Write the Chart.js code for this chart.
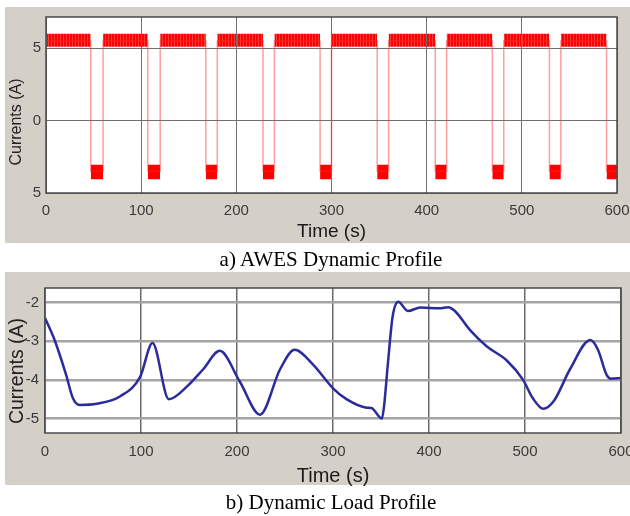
<!DOCTYPE html>
<html>
<head>
<meta charset="utf-8">
<script src="https://cdn.jsdelivr.net/npm/chart.js@4.4.1/dist/chart.umd.min.js"></script>
<style>
  body { margin:0; width:630px; height:516px; overflow:hidden; background:#fff; position:relative; font-family:"Liberation Sans", Arial, sans-serif; }
  .panel { position:absolute; background:#d4d0c8; }
  #panelA { left:5px; top:7px; width:625px; height:236px; }
  #panelB { left:5px; top:272px; width:625px; height:213px; }
  canvas { position:absolute; }
  #chartA { left:5px; top:3px; }
  #chartB { left:5px; top:273px; }
  .ytitle { position:absolute; transform:translate(-50%,-50%) rotate(-90deg); white-space:nowrap; color:#222; }
  .caption { position:absolute; left:0; width:662px; text-align:center; font-family:"Liberation Serif","Times New Roman",serif; font-size:21px; line-height:21px; color:#000; }
</style>
</head>
<body>
<div class="panel" id="panelA"></div>
<div class="panel" id="panelB"></div>
<canvas id="chartA" width="635" height="250"></canvas>
<canvas id="chartB" width="640" height="220"></canvas>
<div class="ytitle" style="left:16px; top:122px; font-size:16px;">Currents (A)</div>
<div class="ytitle" style="left:16px; top:371px; font-size:19.5px;">Currents (A)</div>
<div class="caption" style="top:249px;">a) AWES Dynamic Profile</div>
<div class="caption" style="top:492px;">b) Dynamic Load Profile</div>
<script>
// x ticks shared by both plots
const timeTicks = [0, 100, 200, 300, 400, 500, 600];

// a) AWES profile: low phases (s) and band levels (A)
const awesLowStart = [47, 107, 168, 228, 288, 348, 409, 469, 529, 589];
const awesLowEnd   = [60, 120, 180, 240, 300, 360, 421, 481, 541, 600];
const awesHighBand = [5.1, 6.0];
const awesLowBand  = [-4.05, -3.05];
const awesLevels   = [5.5, -3.5];
const awesYTicks   = [-5, 0, 5];
const awesYLabels  = ['5', '0', '5'];

// b) dynamic load profile
const loadTime    = [0, 10, 22, 29, 36, 54, 78, 99, 112, 129, 148, 165, 182, 203, 224, 245, 260, 279, 300, 314, 335, 340, 351, 353, 357, 362, 368, 378, 391, 411, 420, 427, 443, 460, 481, 498, 508, 519, 530, 547, 568, 576, 585, 590, 599];
const loadCurrent = [-2.4, -2.97, -3.87, -4.47, -4.65, -4.62, -4.43, -3.93, -3.05, -4.5, -4.17, -3.72, -3.25, -4.05, -4.9, -3.72, -3.22, -3.6, -4.22, -4.5, -4.72, -4.73, -5.0, -4.72, -3.63, -2.38, -1.98, -2.22, -2.13, -2.15, -2.12, -2.22, -2.72, -3.13, -3.5, -4.0, -4.47, -4.75, -4.55, -3.72, -2.97, -3.22, -3.87, -3.97, -3.95];
const loadYTicks  = [-5, -4, -3, -2];

// white plot area + black box like matlab
const plotFrame = {
  id: 'plotFrame',
  beforeDraw(chart) {
    const a = chart.chartArea, ctx = chart.ctx;
    ctx.save();
    ctx.fillStyle = '#fff';
    ctx.fillRect(a.left, a.top, a.right - a.left, a.bottom - a.top);
    ctx.restore();
  },
  afterDraw(chart) {
    const a = chart.chartArea, ctx = chart.ctx;
    ctx.save();
    ctx.strokeStyle = '#4a4a4a';
    ctx.lineWidth = 1.5;
    ctx.strokeRect(a.left, a.top, a.right - a.left, a.bottom - a.top);
    ctx.restore();
  }
};

function fixedTicks(list) {
  return function(scale) { scale.ticks = list.map(function(v){ return {value: v}; }); };
}

// build the segments of the square profile
var highSegs = [], lowSegs = [], prev = 0;
for (var i = 0; i < awesLowStart.length; i++) {
  highSegs.push([prev, awesLowStart[i]]);
  lowSegs.push([awesLowStart[i], awesLowEnd[i]]);
  prev = awesLowEnd[i];
}
if (prev < 600) highSegs.push([prev, 600]);

function bandPoints(segs, y) {
  var pts = [];
  segs.forEach(function(s){ pts.push({x: s[0], y: y}, {x: s[1], y: y}, {x: s[1], y: null}); });
  return pts;
}

var steps = [{x: 0, y: awesLevels[0]}];
for (var j = 0; j < awesLowStart.length; j++) {
  steps.push({x: awesLowStart[j], y: awesLevels[0]}, {x: awesLowStart[j], y: awesLevels[1]}, {x: awesLowEnd[j], y: awesLevels[1]});
  if (awesLowEnd[j] < 600) steps.push({x: awesLowEnd[j], y: awesLevels[0]});
}

// striped red for the noisy high band
function bandPattern() {
  var c = document.createElement('canvas');
  c.width = 3; c.height = 3;
  var g = c.getContext('2d');
  g.fillStyle = '#ff0000'; g.fillRect(0, 0, 3, 3);
  g.fillStyle = '#ff3a3a'; g.fillRect(1, 0, 1, 3);
  return g.createPattern(c, 'repeat');
}

var hidden = {borderWidth: 0, borderColor: 'rgba(0,0,0,0)', pointRadius: 0, fill: false, spanGaps: false};

// chart a
new Chart(document.getElementById('chartA'), {
  type: 'line',
  data: {
    datasets: [
      {data: steps, borderColor: 'rgba(255,40,40,0.45)', borderWidth: 1.5, pointRadius: 0, tension: 0, fill: false},
      Object.assign({data: bandPoints(highSegs, awesHighBand[0])}, hidden),
      Object.assign({}, hidden, {data: bandPoints(highSegs, awesHighBand[1]), fill: '-1', backgroundColor: bandPattern()}),
      Object.assign({data: bandPoints(lowSegs, awesLowBand[0])}, hidden),
      Object.assign({}, hidden, {data: bandPoints(lowSegs, awesLowBand[1]), fill: '-1', backgroundColor: '#ff0000'})
    ]
  },
  options: {
    responsive: false,
    animation: false,
    plugins: { legend: {display: false}, tooltip: {enabled: false} },
    layout: { padding: {top: 10, right: 23, left: 0, bottom: 0} },
    scales: {
      x: {
        type: 'linear', min: 0, max: 600,
        afterBuildTicks: fixedTicks(timeTicks),
        afterFit: function(s){ s.height = 60; },
        grid: {color: '#707070', lineWidth: 1, drawTicks: false, z: 1},
        border: {display: false},
        ticks: {padding: 9, color: '#3a3a3a', font: {family: 'Liberation Sans', size: 15}},
        title: {display: true, text: 'Time (s)', color: '#1a1a1a', font: {family: 'Liberation Sans', size: 19}, padding: {top: 0, bottom: 10}}
      },
      y: {
        min: -5, max: 7.15,
        afterBuildTicks: fixedTicks(awesYTicks),
        afterFit: function(s){ s.width = 41; },
        grid: {color: '#707070', lineWidth: 1, drawTicks: false, z: 1},
        border: {display: false},
        ticks: {
          padding: 5, color: '#3a3a3a', font: {family: 'Liberation Sans', size: 15},
          callback: function(v){ var k = awesYTicks.indexOf(v); return k < 0 ? '' : awesYLabels[k]; }
        }
      }
    }
  },
  plugins: [plotFrame]
});

// chart b
new Chart(document.getElementById('chartB'), {
  type: 'line',
  data: {
    datasets: [{
      data: loadTime.map(function(t, k){ return {x: t, y: loadCurrent[k]}; }),
      borderColor: '#2b2b9c',
      borderWidth: 2.5,
      pointRadius: 0,
      cubicInterpolationMode: 'monotone',
      fill: false
    }]
  },
  options: {
    responsive: false,
    animation: false,
    plugins: { legend: {display: false}, tooltip: {enabled: false} },
    layout: { padding: {top: 10, right: 24, left: 0, bottom: 0} },
    scales: {
      x: {
        type: 'linear', min: 0, max: 600,
        afterBuildTicks: fixedTicks(timeTicks),
        afterFit: function(s){ s.height = 60; },
        grid: {color: '#6a6a6a', lineWidth: 1.5, drawTicks: false},
        border: {display: false},
        ticks: {padding: 10, color: '#3a3a3a', font: {family: 'Liberation Sans', size: 15}},
        title: {display: true, text: 'Time (s)', color: '#1a1a1a', font: {family: 'Liberation Sans', size: 20}, padding: {top: 0, bottom: 5}}
      },
      y: {
        min: -5.375, max: -1.625,
        afterBuildTicks: fixedTicks(loadYTicks),
        afterFit: function(s){ s.width = 40; },
        grid: {color: '#a4a4a4', lineWidth: 2.5, drawTicks: false},
        border: {display: false},
        ticks: {padding: 6, color: '#3a3a3a', font: {family: 'Liberation Sans', size: 15}}
      }
    }
  },
  plugins: [plotFrame]
});
</script>
</body>
</html>
